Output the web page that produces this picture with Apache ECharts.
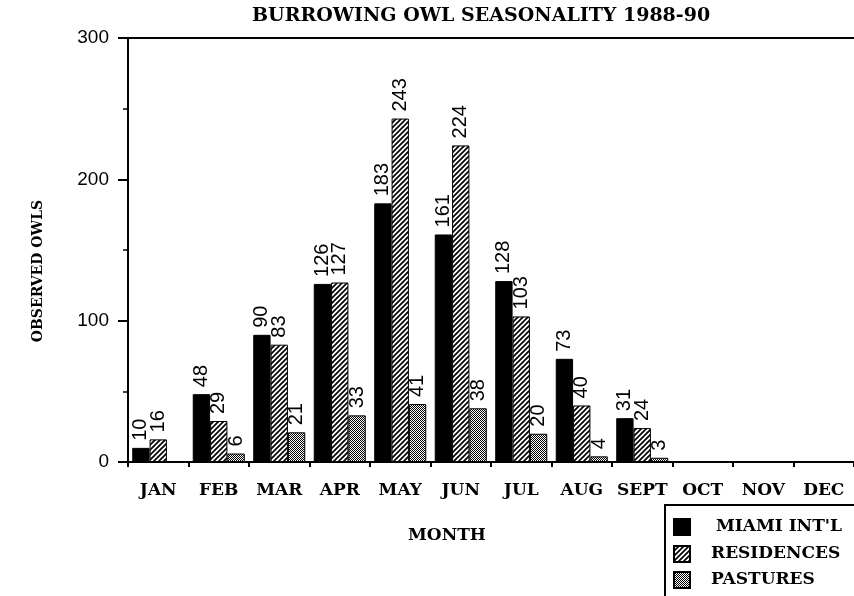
<!DOCTYPE html>
<html>
<head>
<meta charset="utf-8">
<title>Burrowing Owl Seasonality</title>
<script src="https://cdn.jsdelivr.net/npm/echarts@6/dist/echarts.min.js"></script>
<style>
  html, body { margin: 0; padding: 0; background: #fff; }
  #main { width: 854px; height: 596px; }
</style>
</head>
<body>
<div id="main"></div>
<script>
var months = ['JAN', 'FEB', 'MAR', 'APR', 'MAY', 'JUN', 'JUL', 'AUG', 'SEPT', 'OCT', 'NOV', 'DEC'];
var miami = [10, 48, 90, 126, 183, 161, 128, 73, 31, 0, 0, 0];
var residences = [16, 29, 83, 127, 243, 224, 103, 40, 24, 0, 0, 0];
var pastures = [0, 6, 21, 33, 41, 38, 20, 4, 3, 0, 0, 0];
var seriesNames = ['MIAMI INT\'L', 'RESIDENCES', 'PASTURES'];
var yTicks = [0, 100, 200, 300];

var serif = 'DejaVu Serif';
var sans = 'Liberation Sans';

// diagonal hatch "/" for residences
function makeHatch() {
    var s = 5;
    var c = document.createElement('canvas');
    c.width = s; c.height = s;
    var g = c.getContext('2d');
    g.fillStyle = '#fff';
    g.fillRect(0, 0, s, s);
    g.strokeStyle = '#000';
    g.lineWidth = 1.7;
    g.beginPath();
    g.moveTo(-1, s + 1); g.lineTo(s + 1, -1);
    g.moveTo(-1, 1); g.lineTo(1, -1);
    g.moveTo(s - 1, s + 1); g.lineTo(s + 1, s - 1);
    g.stroke();
    return c;
}

// fine stipple for pastures
function makeStipple() {
    var c = document.createElement('canvas');
    c.width = 2; c.height = 2;
    var g = c.getContext('2d');
    g.fillStyle = '#fff';
    g.fillRect(0, 0, 2, 2);
    g.fillStyle = '#000';
    g.fillRect(0, 0, 1, 1);
    g.fillRect(1, 1, 1, 1);
    return c;
}

var hatch = { image: makeHatch(), repeat: 'repeat' };
var stipple = { image: makeStipple(), repeat: 'repeat' };

var barLabel = {
    show: true,
    position: 'top',
    rotate: 90,
    align: 'left',
    verticalAlign: 'middle',
    distance: 7,
    color: '#000',
    fontFamily: sans,
    fontSize: 20,
    formatter: function (p) { return p.value === 0 ? '' : String(p.value); }
};

function barSeries(name, data, color) {
    return {
        name: name,
        type: 'bar',
        data: data,
        barGap: '0%',
        barCategoryGap: '14%',
        itemStyle: { color: color, borderColor: '#000', borderWidth: 1 },
        label: barLabel,
        emphasis: { disabled: true }
    };
}

// one legend per entry so the box is not wrapped at the page edge
var legendTops = [518, 545, 571];
var legendPad = [21, 16, 16];
var legends = seriesNames.map(function (n, i) {
    return {
        data: [n],
        icon: 'rect',
        left: 673, top: legendTops[i],
        padding: 0,
        itemWidth: 16, itemHeight: 16,
        selectedMode: false,
        textStyle: { fontFamily: serif, fontWeight: 'bold', fontSize: 17, color: '#000', padding: [0, 0, 0, legendPad[i]] }
    };
});

var chart = echarts.init(document.getElementById('main'));
chart.setOption({
    animation: false,
    backgroundColor: '#fff',
    title: [{
        text: 'BURROWING OWL SEASONALITY 1988-90',
        left: 247, top: 2,
        textStyle: { fontFamily: serif, fontWeight: 'bold', fontSize: 19, color: '#000' }
    }, {
        text: 'MONTH',
        left: 403, top: 522,
        textStyle: { fontFamily: serif, fontWeight: 'bold', fontSize: 17, color: '#000' }
    }],
    graphic: [{
        type: 'text',
        x: 38, y: 271,
        rotation: Math.PI / 2,
        style: {
            text: 'OBSERVED OWLS',
            fontFamily: serif, fontWeight: 'bold', fontSize: 14, fill: '#000',
            align: 'center', verticalAlign: 'middle'
        }
    }, {
        type: 'rect',
        shape: { x: 665, y: 505, width: 220, height: 120 },
        style: { fill: 'none', stroke: '#000', lineWidth: 2 }
    }],
    legend: legends,
    grid: { left: 128, top: 38, width: 737, height: 424, containLabel: false },
    xAxis: [{
        type: 'category',
        data: months,
        axisLine: { lineStyle: { color: '#000', width: 2 } },
        axisTick: { show: true, length: 5, lineStyle: { color: '#000', width: 2 } },
        axisLabel: { margin: 20, fontFamily: serif, fontWeight: 'bold', fontSize: 17, color: '#000', interval: 0 },
        splitLine: { show: false }
    }, {
        type: 'category',
        data: months,
        position: 'top',
        axisLine: { onZero: false, lineStyle: { color: '#000', width: 2 } },
        axisTick: { show: false },
        axisLabel: { show: false }
    }],
    yAxis: {
        type: 'value',
        min: yTicks[0],
        max: yTicks[yTicks.length - 1],
        interval: 100,
        axisLine: { show: true, lineStyle: { color: '#000', width: 2 } },
        axisTick: { show: true, length: 10, lineStyle: { color: '#000', width: 2 } },
        minorTick: { show: true, splitNumber: 2, length: 5, lineStyle: { color: '#000', width: 1.5 } },
        axisLabel: { margin: 19, fontFamily: sans, fontSize: 19, color: '#000' },
        splitLine: { show: false }
    },
    series: [
        barSeries(seriesNames[0], miami, '#000'),
        barSeries(seriesNames[1], residences, hatch),
        barSeries(seriesNames[2], pastures, stipple)
    ]
});
</script>
</body>
</html>
